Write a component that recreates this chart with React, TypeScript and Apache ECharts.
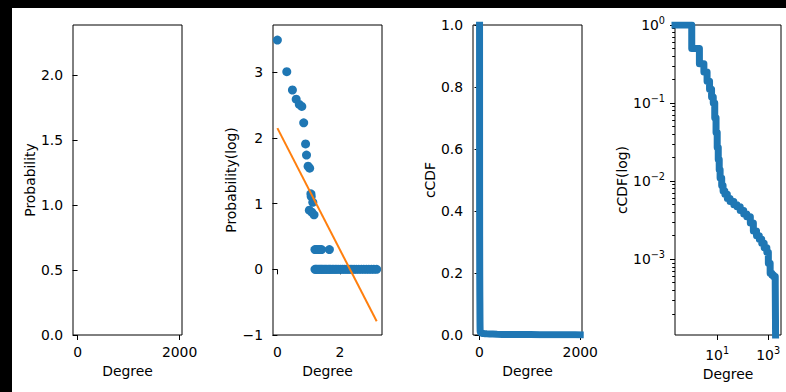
import React, { useEffect, useRef } from "react";
import * as echarts from "echarts";

const FONT = "DejaVu Sans, sans-serif";
const BLUE = "#1f77b4";
const ORANGE = "#ff7f0e";
const FS = 13.9;

// Panel 2: log10(degree) vs log10(count)
const logDegree = [
  0.0, 0.3, 0.48, 0.6, 0.7, 0.78, 0.84, 0.9, 0.93, 0.98, 1.03, 1.07, 1.08, 1.13, 1.02, 1.1, 1.17,
  1.2, 1.25, 1.3, 1.36, 1.41, 1.66,
  1.2, 1.23, 1.26, 1.3, 1.34, 1.38, 1.41, 1.45, 1.49, 1.53, 1.57, 1.62, 1.66, 1.7, 1.75, 1.8, 1.85,
  1.9, 1.96, 2.02, 2.08, 2.14, 2.2, 2.26, 2.32, 2.38, 2.45, 2.52, 2.6, 2.68, 2.76, 2.84, 2.92, 3.0,
  3.08, 3.17,
];
const logProbability = [
  3.49, 3.01, 2.73, 2.59, 2.51, 2.48, 2.23, 1.91, 1.74, 1.57, 1.54, 1.15, 1.11, 1.02, 0.9, 0.87, 0.83,
  0.3, 0.3, 0.3, 0.3, 0.3, 0.3,
  0, 0, 0, 0, 0, 0, 0, 0, 0, 0, 0, 0, 0, 0, 0, 0, 0,
  0, 0, 0, 0, 0, 0, 0, 0, 0, 0, 0, 0, 0, 0, 0, 0, 0,
  0, 0,
];
const fitX = [0, 3.17];
const fitY = [2.15, -0.79];

// Panels 3 & 4: complementary CDF
const ccdfDegree = [
  0, 1, 2, 3, 4, 5, 6, 7, 8, 9, 10, 11, 12, 13, 15, 17, 20, 25, 32, 45, 60, 80, 110, 145, 200, 263,
  350, 450, 560, 700, 890, 1020, 1200, 1400, 1620, 1900, 2000,
];
const ccdfValue = [
  1, 0.5, 0.32, 0.25, 0.19, 0.15, 0.12, 0.1, 0.065, 0.042, 0.027, 0.019, 0.014, 0.011, 0.0088, 0.0075,
  0.0068, 0.006, 0.0055, 0.005, 0.0047, 0.0042, 0.0038, 0.0035, 0.0029, 0.0023, 0.002, 0.0018, 0.0016,
  0.0014, 0.00123, 0.00089, 0.00066, 0.00063, 0.0006, 0.00048, 0.00004,
];

const p1XTicks = [0, 2000];
const p1YTicks = [0, 0.5, 1, 1.5, 2];
const p2XTicks = [0, 2];
const p2YTicks = [-1, 0, 1, 2, 3];
const p3XTicks = [0, 2000];
const p3YTicks = [0, 0.2, 0.4, 0.6, 0.8, 1.0];
const p4XTicks = [10, 1000];
const p4YTicks = [0.001, 0.01, 0.1, 1];
const p4YMinorTicks = [
  0.0002, 0.0003, 0.0004, 0.0005, 0.0006, 0.0007, 0.0008, 0.0009,
  0.002, 0.003, 0.004, 0.005, 0.006, 0.007, 0.008, 0.009,
  0.02, 0.03, 0.04, 0.05, 0.06, 0.07, 0.08, 0.09,
  0.2, 0.3, 0.4, 0.5, 0.6, 0.7, 0.8, 0.9,
];

const P4_XMIN = 0.22;
const P4_XMAX = 3200;
const P4_YMIN = 1.07e-4;

const minus = (v: number) => (v < 0 ? "\u2212" + String(-v) : String(v));
const sup = (v: number) => {
  const e = Math.round(Math.log10(v));
  return `{b|10}{s|${minus(e)}}`;
};

const tick = (vals: number[], len = 5) => ({
  show: true,
  inside: false,
  length: len,
  lineStyle: { color: "#000", width: 1 },
  customValues: vals,
});
const label = (vals: number[], fmt: (v: number) => string, extra: any = {}) => ({
  show: true,
  color: "#000",
  fontFamily: FONT,
  fontSize: FS,
  margin: 10,
  customValues: vals,
  formatter: fmt,
  ...extra,
});
const nameStyle = { color: "#000", fontFamily: FONT, fontSize: FS };
const richSup = {
  rich: {
    b: { color: "#000", fontFamily: FONT, fontSize: FS, lineHeight: 20 },
    s: { color: "#000", fontFamily: FONT, fontSize: 9.7, lineHeight: 12, verticalAlign: "top" },
  },
};

const baseAxis = {
  axisLine: { show: false },
  splitLine: { show: false },
  nameLocation: "middle",
  nameTextStyle: nameStyle,
};

const grids = [
  { left: 73, top: 25, width: 109, height: 310 },
  { left: 273, top: 25, width: 109, height: 310 },
  { left: 473, top: 25, width: 109, height: 310 },
  { left: 675, top: 25, width: 106, height: 310 },
].map((g) => ({
  ...g,
  show: true,
  backgroundColor: "#fff",
  borderColor: "#000",
  borderWidth: 1,
  containLabel: false,
  outerBoundsMode: "none",
}));

const option: any = {
  animation: false,
  grid: grids,
  xAxis: [
    {
      ...baseAxis, gridIndex: 0, type: "value", min: -90, max: 2047,
      axisTick: tick(p1XTicks), axisLabel: label(p1XTicks, (v) => String(v)),
      name: "Degree", nameGap: 26,
    },
    {
      ...baseAxis, gridIndex: 1, type: "value", min: -0.14, max: 3.34,
      axisTick: tick(p2XTicks), axisLabel: label(p2XTicks, (v) => String(v)),
      name: "Degree", nameGap: 26,
    },
    {
      ...baseAxis, gridIndex: 2, type: "value", min: -130, max: 2035,
      axisTick: tick(p3XTicks), axisLabel: label(p3XTicks, (v) => String(v)),
      name: "Degree", nameGap: 26,
    },
    {
      ...baseAxis, gridIndex: 3, type: "log", logBase: 10, min: P4_XMIN, max: P4_XMAX,
      axisTick: tick(p4XTicks), axisLabel: label(p4XTicks, sup, richSup),
      name: "Degree", nameGap: 32,
    },
  ],
  yAxis: [
    {
      ...baseAxis, gridIndex: 0, type: "value", min: 0, max: 2.385,
      axisTick: tick(p1YTicks), axisLabel: label(p1YTicks, (v) => v.toFixed(1)),
      name: "Probability", nameGap: 36,
    },
    {
      ...baseAxis, gridIndex: 1, type: "value", min: -1, max: 3.72,
      axisTick: tick(p2YTicks), axisLabel: label(p2YTicks, minus),
      name: "Probability(log)", nameGap: 35,
    },
    {
      ...baseAxis, gridIndex: 2, type: "value", min: 0, max: 1,
      axisTick: tick(p3YTicks), axisLabel: label(p3YTicks, (v) => v.toFixed(1)),
      name: "cCDF", nameGap: 36,
    },
    {
      ...baseAxis, gridIndex: 3, type: "log", logBase: 10, min: P4_YMIN, max: 1, position: "left",
      axisTick: tick(p4YTicks), axisLabel: label(p4YTicks, sup, richSup),
      name: "cCDF(log)", nameGap: 46,
    },
    {
      ...baseAxis, gridIndex: 3, type: "log", logBase: 10, min: P4_YMIN, max: 1, position: "left", offset: 0,
      axisTick: tick(p4YMinorTicks, 2.8), axisLabel: { show: false },
    },
  ],
  series: [
    { type: "scatter", xAxisIndex: 0, yAxisIndex: 0, data: [] },
    {
      type: "scatter", xAxisIndex: 1, yAxisIndex: 1, symbolSize: 9,
      itemStyle: { color: BLUE, opacity: 1 }, z: 2,
      data: logDegree.map((x, i) => [x, logProbability[i]]),
    },
    {
      type: "line", xAxisIndex: 1, yAxisIndex: 1, showSymbol: false, symbol: "none", z: 3,
      lineStyle: { color: ORANGE, width: 2 },
      data: fitX.map((x, i) => [x, fitY[i]]),
    },
    {
      type: "line", xAxisIndex: 2, yAxisIndex: 2, showSymbol: false, symbol: "none", step: "end",
      lineStyle: { color: BLUE, width: 7, cap: "square", join: "round" },
      data: ccdfDegree.map((x, i) => [x, ccdfValue[i]]),
    },
    {
      type: "line", xAxisIndex: 3, yAxisIndex: 3, showSymbol: false, symbol: "none", step: "end",
      lineStyle: { color: BLUE, width: 7, cap: "square", join: "round" },
      data: ccdfDegree.map((x, i) => [x === 0 ? P4_XMIN : x, ccdfValue[i]]),
    },
  ],
};

export default function App() {
  const ref = useRef<HTMLDivElement>(null);
  useEffect(() => {
    const chart = echarts.init(ref.current!, null, { renderer: "svg", width: 786, height: 392 });
    chart.setOption(option);
    return () => chart.dispose();
  }, []);
  return (
    <div style={{ position: "fixed", left: 0, top: 0, width: 786, height: 392, background: "#000", overflow: "hidden" }}>
      <div style={{ position: "absolute", left: 12, top: 8, right: 0, bottom: 0, background: "#fff" }} />
      <div ref={ref} style={{ position: "absolute", left: 0, top: 0, width: 786, height: 392 }} />
    </div>
  );
}
